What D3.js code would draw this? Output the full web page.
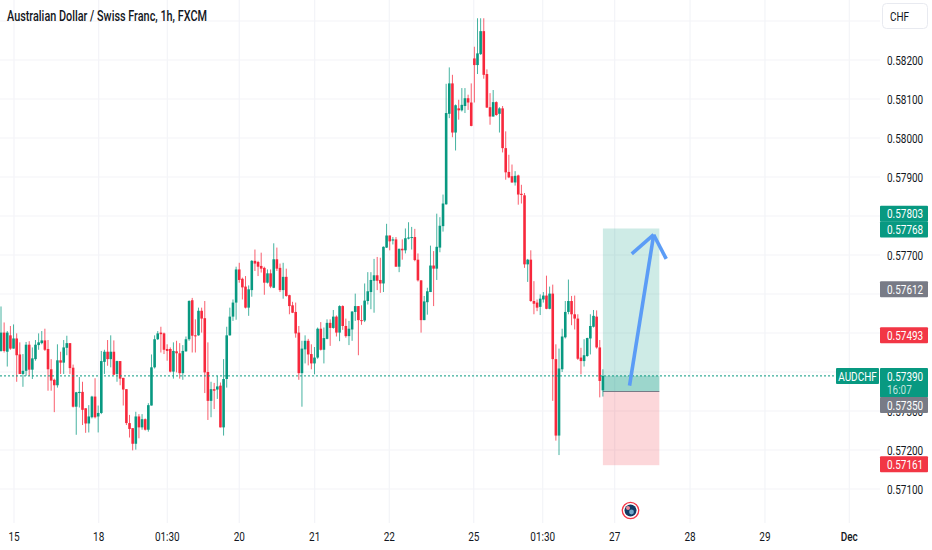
<!DOCTYPE html>
<html>
<head>
<meta charset="utf-8">
<title>AUDCHF</title>
<script src="https://cdn.jsdelivr.net/npm/d3@7"></script>
<style>
  html, body { margin: 0; padding: 0; background: #fff; }
  svg { display: block; }
  text { font-family: Roboto, "Open Sans", sans-serif; }
</style>
</head>
<body>
<div id="chart"></div>
<script>
(function() {
  const opens = [
    57454,57501,57452,57494,57460,57486,57445,57395,57403,57470,
    57406,57433,57469,57474,57481,57459,57407,57380,57366,57430,
    57424,57462,57474,57411,57311,57346,57349,57307,57268,57284,
    57337,57286,57295,57426,57452,57433,57452,57395,57428,57385,
    57356,57269,57256,57216,57286,57258,57279,57252,57314,57412,
    57484,57501,57499,57459,57459,57401,57453,57448,57397,57453,
    57484,57584,57494,57494,57557,57538,57400,57326,57356,57355,
    57365,57258,57382,57494,57542,57578,57663,57639,57619,57565,
    57610,57685,57682,57672,57667,57629,57653,57616,57689,57667,
    57610,57644,57597,57571,57554,57501,57397,57458,57480,57446,
    57422,57437,57511,57457,57485,57526,57513,57542,57501,57569,
    57518,57492,57509,57554,57569,57533,57532,57582,57605,57634,
    57648,57636,57627,57719,57750,57737,57740,57670,57716,57712,
    57742,57744,57746,57688,57635,57533,57579,57605,57673,57665,
    57719,57774,57830,58062,58140,58014,58076,58071,58082,58102,
    58091,58204,58187,58215,58274,58164,58079,58055,58092,58062,
    58076,57974,57913,57902,57886,57904,57857,57853,57676,57688,
    57582,57578,57567,57586,57596,57562,57601,57433,57237,57407,
    57489,57554,57582,57548,57537,57437,57428,57441,57486,57516,
    57542,57463,57353
  ];
  const closes = [
    57501,57454,57501,57460,57486,57443,57395,57403,57470,57406,
    57435,57470,57476,57481,57457,57407,57378,57366,57430,57424,
    57463,57474,57410,57311,57348,57349,57303,57268,57286,57337,
    57284,57295,57428,57452,57433,57452,57393,57428,57383,57355,
    57269,57254,57216,57286,57258,57279,57252,57315,57412,57484,
    57499,57497,57457,57454,57401,57454,57448,57397,57454,57484,
    57582,57493,57493,57557,57537,57399,57326,57356,57352,57363,
    57258,57382,57494,57542,57578,57663,57636,57617,57565,57612,
    57685,57678,57670,57665,57629,57653,57619,57689,57665,57610,
    57644,57595,57569,57552,57499,57397,57460,57480,57445,57422,
    57437,57511,57457,57487,57526,57513,57542,57501,57569,57518,
    57492,57511,57555,57569,57533,57532,57583,57607,57636,57648,
    57634,57627,57721,57750,57735,57740,57670,57716,57712,57743,
    57745,57746,57687,57635,57533,57581,57607,57673,57665,57721,
    57775,57832,58064,58140,58014,58084,58071,58085,58102,58091,
    58031,58187,58217,58274,58162,58078,58055,58092,58059,58076,
    57974,57912,57899,57886,57903,57855,57854,57676,57688,57582,
    57575,57565,57588,57596,57562,57601,57433,57237,57409,57491,
    57554,57582,57548,57537,57434,57428,57443,57487,57518,57544,
    57463,57377,57390
  ];
  const highs = [
    57568,57527,57505,57518,57522,57499,57476,57446,57477,57479,
    57463,57482,57499,57505,57511,57482,57433,57383,57471,57452,
    57482,57493,57474,57419,57349,57387,57375,57307,57315,57339,
    57384,57314,57454,57457,57482,57494,57481,57429,57428,57385,
    57356,57290,57256,57298,57292,57292,57281,57320,57445,57494,
    57505,57516,57501,57471,57463,57476,57480,57474,57469,57491,
    57584,57590,57535,57565,57565,57582,57476,57375,57372,57390,
    57373,57433,57516,57565,57586,57670,57680,57642,57646,57622,
    57687,57714,57685,57706,57670,57663,57663,57730,57719,57678,
    57680,57665,57598,57580,57578,57518,57480,57494,57485,57471,
    57464,57514,57528,57514,57535,57535,57559,57545,57571,57571,
    57537,57531,57556,57601,57569,57571,57627,57656,57656,57690,
    57695,57693,57722,57780,57750,57746,57746,57716,57740,57768,
    57784,57772,57767,57704,57635,57595,57616,57724,57710,57806,
    57797,57855,58139,58181,58162,58086,58098,58128,58128,58111,
    58140,58234,58307,58307,58307,58176,58115,58123,58094,58079,
    58082,58017,57957,57932,57915,57906,57880,57859,57690,57712,
    57633,57586,57599,57605,57647,57619,57624,57471,57460,57511,
    57582,57637,57595,57596,57548,57462,57484,57488,57548,57559,
    57558,57482,57407
  ];
  const lows = [
    57452,57450,57414,57457,57460,57375,57395,57362,57390,57390,
    57382,57429,57457,57471,57454,57352,57352,57297,57360,57395,
    57395,57443,57395,57309,57239,57309,57264,57244,57245,57281,
    57281,57245,57292,57395,57416,57412,57392,57375,57366,57314,
    57264,57232,57199,57201,57230,57252,57250,57247,57314,57409,
    57482,57450,57446,57429,57399,57383,57399,57383,57380,57452,
    57480,57450,57450,57493,57501,57346,57277,57284,57305,57331,
    57258,57237,57360,57493,57531,57534,57629,57586,57563,57544,
    57593,57659,57646,57655,57598,57627,57615,57615,57659,57605,
    57588,57593,57548,57551,57488,57380,57311,57422,57417,57407,
    57394,57434,57455,57422,57484,57467,57511,57491,57479,57508,
    57488,57469,57480,57531,57443,57521,57528,57573,57561,57552,
    57610,57603,57605,57718,57712,57727,57670,57656,57688,57704,
    57740,57714,57684,57632,57501,57533,57547,57605,57569,57636,
    57707,57760,57829,58051,58002,57968,58047,58068,58064,58072,
    58030,58091,58164,58213,58152,58077,58034,58055,58057,58014,
    57963,57893,57897,57885,57878,57829,57832,57667,57631,57580,
    57548,57556,57546,57578,57561,57561,57326,57224,57187,57400,
    57486,57548,57520,57509,57431,57394,57414,57439,57445,57514,
    57460,57335,57337
  ];

  const GRID_TICKS = [57100,57200,57300,57400,57500,57600,57700,57800,57900,58000,58100,58200,58300];
  // the others sit under a badge in the picture
  const PRICE_LABELS = [57100,57200,57300,57400,57700,57900,58000,58100,58200];
  const TIME_LABELS = ['15','18','01:30','20','21','22','25','01:30','27','28','29','Dec'];
  const TIME_TICKS = [4.15,31.16,53.05,76,100.06,123.86,150.8,172.8,195.75,219.8,243.7,270.6];

  const LAST_PRICE = 57390;
  const ENTRY = 57350;
  const TARGET = 57768;
  const STOP = 57161;
  const POSITION_FROM = 192;
  const POSITION_TO = 210;
  const EXTRA_TARGET = 57803;
  const ALERT_PRICE = 57493;
  const MARKER_PRICE = 57612;

  // arrow drawn over the position box, [bar index, price]
  const arrowShaft = [[200.5, 57365], [208.2, 57752]];
  const arrowLeft = [[201.2, 57703], [208.2, 57752]];
  const arrowRight = [[212.2, 57690], [208.2, 57752]];

  const W = 932, H = 550;
  const PANE_W = 880, PANE_H = 523;
  const GREEN = '#089981', RED = '#f7283c', GREY = '#787b86', GRID = '#f3f4f8', INK = '#131722';
  const NARROW = 0.83; // the chart font runs narrower than Roboto

  var x = d3.scaleLinear().domain([0, 192]).range([1, 602.9]);
  var y = d3.scaleLinear().domain([57100, 58200]).range([489, 60]);

  var svg = d3.select('#chart').append('svg').attr('width', W).attr('height', H);

  function squeeze(sel) {
    sel.each(function() {
      d3.select(this)
        .attr('textLength', this.getComputedTextLength() * NARROW)
        .attr('lengthAdjust', 'spacingAndGlyphs');
    });
    return sel;
  }

  // grid
  svg.append('g').selectAll('line').data(GRID_TICKS).enter().append('line')
    .attr('x1', 0).attr('x2', PANE_W)
    .attr('y1', function(d) { return y(d); }).attr('y2', function(d) { return y(d); })
    .attr('stroke', GRID).attr('stroke-width', 1.2);

  svg.append('g').selectAll('line').data(TIME_TICKS).enter().append('line')
    .attr('x1', function(d) { return x(d); }).attr('x2', function(d) { return x(d); })
    .attr('y1', 0).attr('y2', PANE_H)
    .attr('stroke', GRID).attr('stroke-width', 1.2);

  // long position box
  var boxX = x(POSITION_FROM), boxW = x(POSITION_TO) - x(POSITION_FROM);

  svg.append('rect')
    .attr('x', boxX).attr('width', boxW)
    .attr('y', y(TARGET)).attr('height', y(ENTRY) - y(TARGET))
    .attr('fill', GREEN).attr('fill-opacity', 0.2);
  svg.append('rect')
    .attr('x', boxX).attr('width', boxW)
    .attr('y', y(ENTRY)).attr('height', y(STOP) - y(ENTRY))
    .attr('fill', '#f23645').attr('fill-opacity', 0.2);
  svg.append('rect')
    .attr('x', boxX).attr('width', boxW)
    .attr('y', y(LAST_PRICE)).attr('height', y(ENTRY) - y(LAST_PRICE))
    .attr('fill', GREEN).attr('fill-opacity', 0.25);
  svg.append('line')
    .attr('x1', boxX).attr('x2', boxX + boxW)
    .attr('y1', y(ENTRY)).attr('y2', y(ENTRY))
    .attr('stroke', GREY).attr('stroke-width', 1);

  // candles
  var candles = svg.append('g').selectAll('g').data(opens).enter().append('g');

  candles.append('line')
    .attr('x1', function(d, i) { return x(i); }).attr('x2', function(d, i) { return x(i); })
    .attr('y1', function(d, i) { return y(highs[i]); })
    .attr('y2', function(d, i) { return y(lows[i]); })
    .attr('stroke-width', 1)
    .attr('stroke-opacity', 0.75)
    .attr('stroke', function(d, i) { return closes[i] >= d ? GREEN : RED; });

  candles.append('rect')
    .attr('x', function(d, i) { return x(i) - 1.3; })
    .attr('width', 2.6)
    .attr('y', function(d, i) { return y(Math.max(d, closes[i])); })
    .attr('height', function(d, i) { return Math.max(1, Math.abs(y(d) - y(closes[i]))); })
    .attr('fill', function(d, i) { return closes[i] >= d ? GREEN : RED; });

  // last price line
  svg.append('line')
    .attr('x1', 0).attr('x2', 836)
    .attr('y1', y(LAST_PRICE)).attr('y2', y(LAST_PRICE))
    .attr('stroke', GREEN).attr('stroke-width', 1).attr('stroke-dasharray', '2 2');

  // hand drawn arrow
  var arrowLine = d3.line()
    .x(function(d) { return x(d[0]); })
    .y(function(d) { return y(d[1]); });

  [arrowShaft, arrowLeft, arrowRight].forEach(function(pts) {
    svg.append('path')
      .attr('d', arrowLine(pts))
      .attr('fill', 'none')
      .attr('stroke', '#5b9cf6')
      .attr('stroke-width', 3.6);
  });

  // price axis labels
  squeeze(svg.append('g').selectAll('text').data(PRICE_LABELS).enter().append('text')
    .attr('x', 887)
    .attr('y', function(d) { return y(d) + 4.5; })
    .attr('font-size', 12)
    .attr('fill', INK)
    .text(function(d) { return (d / 100000).toFixed(5); }));

  // time axis labels
  squeeze(svg.append('g').selectAll('text').data(TIME_LABELS).enter().append('text')
    .attr('x', function(d, i) { return x(TIME_TICKS[i]); })
    .attr('y', 541)
    .attr('text-anchor', 'middle')
    .attr('font-size', 12)
    .attr('font-weight', function(d) { return d == 'Dec' ? 500 : 400; })
    .attr('fill', INK)
    .text(function(d) { return d; }));

  // title
  svg.append('text')
    .attr('x', 7).attr('y', 20.5)
    .attr('font-size', 14.5)
    .attr('font-weight', 500)
    .attr('fill', INK)
    .attr('textLength', 200)
    .attr('lengthAdjust', 'spacingAndGlyphs')
    .text('Australian Dollar / Swiss Franc, 1h, FXCM');

  // currency button
  svg.append('rect')
    .attr('x', 882.5).attr('y', 3.5).attr('width', 45).attr('height', 25).attr('rx', 4)
    .attr('fill', '#fff').attr('stroke', '#e8eaf0');
  squeeze(svg.append('text')
    .attr('x', 890).attr('y', 21)
    .attr('font-size', 12).attr('fill', INK).text('CHF'));

  function badge(price, color, cy) {
    var g = svg.append('g');
    g.append('rect')
      .attr('x', 880).attr('width', 48)
      .attr('y', cy - 8).attr('height', 16).attr('rx', 1)
      .attr('fill', color);
    squeeze(g.append('text')
      .attr('x', 887).attr('y', cy + 4.5)
      .attr('font-size', 12).attr('fill', '#fff')
      .text((price / 100000).toFixed(5)));
  }

  badge(EXTRA_TARGET, GREEN, y(EXTRA_TARGET) - 1);
  badge(TARGET, GREEN, y(TARGET) + 1);
  badge(MARKER_PRICE, GREY, y(MARKER_PRICE));
  badge(ALERT_PRICE, '#f23645', y(ALERT_PRICE) - 0.5);
  badge(STOP, '#f23645', y(STOP) - 1);

  // current price box with the countdown
  svg.append('rect').attr('x', 880).attr('y', 368).attr('width', 48).attr('height', 29.5).attr('rx', 1).attr('fill', GREEN);
  squeeze(svg.append('text').attr('x', 887).attr('y', 380.5).attr('font-size', 12).attr('fill', '#fff')
    .text((LAST_PRICE / 100000).toFixed(5)));
  squeeze(svg.append('text').attr('x', 887).attr('y', 394).attr('font-size', 12).attr('fill', '#fff').attr('fill-opacity', 0.75)
    .text('16:07'));
  svg.append('rect').attr('x', 836).attr('y', 368).attr('width', 43).attr('height', 16).attr('rx', 1).attr('fill', GREEN);
  squeeze(svg.append('text').attr('x', 857.5).attr('y', 380.5).attr('text-anchor', 'middle').attr('font-size', 12).attr('fill', '#fff')
    .text('AUDCHF'));

  // pushed down below the current price box
  badge(ENTRY, GREY, 405);

  // author avatar on the time line
  var avatar = svg.append('g').attr('transform', 'translate(630.5,510.5)');
  avatar.append('circle').attr('r', 8.2).attr('fill', '#fff').attr('stroke', '#f23645').attr('stroke-width', 1.3);
  avatar.append('circle').attr('r', 6).attr('fill', '#123a63');
  avatar.append('circle').attr('cx', -2.5).attr('cy', -2.5).attr('r', 2).attr('fill', '#e88a9a');
  avatar.append('circle').attr('cx', 1).attr('cy', 1.5).attr('r', 2.4).attr('fill', '#6fa7c9');
})();
</script>
</body>
</html>
